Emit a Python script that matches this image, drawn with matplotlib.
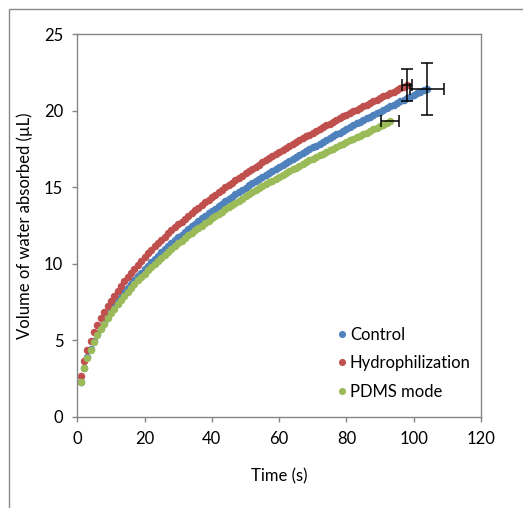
import matplotlib
matplotlib.use("Agg")
import matplotlib.pyplot as plt
from matplotlib.patches import Rectangle

plt.rcParams['font.family'] = ['Lato', 'DejaVu Sans']

# time (s) and absorbed volume (uL), one reading per second
control_t = list(range(1, 105))
control_v = [2.29, 3.19, 3.88, 4.45, 4.96, 5.41, 5.83, 6.21, 6.57, 6.92,
             7.24, 7.55, 7.84, 8.13, 8.40, 8.67, 8.92, 9.17, 9.41, 9.65,
             9.87, 10.10, 10.32, 10.53, 10.74, 10.94, 11.14, 11.34, 11.53, 11.72,
             11.90, 12.09, 12.27, 12.44, 12.62, 12.79, 12.96, 13.13, 13.29, 13.45,
             13.61, 13.77, 13.93, 14.08, 14.24, 14.39, 14.54, 14.68, 14.83, 14.97,
             15.12, 15.26, 15.40, 15.54, 15.67, 15.81, 15.95, 16.08, 16.21, 16.34,
             16.47, 16.60, 16.73, 16.86, 16.98, 17.11, 17.23, 17.36, 17.48, 17.60,
             17.73, 17.85, 17.98, 18.09, 18.22, 18.34, 18.46, 18.58, 18.70, 18.81,
             18.94, 19.05, 19.17, 19.28, 19.40, 19.51, 19.62, 19.73, 19.85, 19.95,
             20.07, 20.17, 20.29, 20.39, 20.51, 20.61, 20.72, 20.82, 20.93, 21.03,
             21.14, 21.24, 21.35, 21.45]

hydro_t = list(range(1, 99))
hydro_v = [2.63, 3.62, 4.36, 4.98, 5.51, 6.00, 6.44, 6.84, 7.23, 7.59,
           7.92, 8.25, 8.56, 8.86, 9.14, 9.42, 9.68, 9.94, 10.19, 10.43,
           10.67, 10.90, 11.13, 11.35, 11.56, 11.77, 11.98, 12.18, 12.38, 12.57,
           12.76, 12.95, 13.14, 13.32, 13.50, 13.67, 13.85, 14.02, 14.19, 14.35,
           14.52, 14.68, 14.84, 15.00, 15.15, 15.30, 15.46, 15.61, 15.76, 15.90,
           16.05, 16.19, 16.33, 16.48, 16.62, 16.75, 16.89, 17.03, 17.16, 17.29,
           17.43, 17.56, 17.69, 17.82, 17.94, 18.07, 18.19, 18.32, 18.44, 18.57,
           18.69, 18.81, 18.93, 19.05, 19.16, 19.28, 19.40, 19.51, 19.63, 19.74,
           19.86, 19.97, 20.08, 20.19, 20.30, 20.41, 20.52, 20.63, 20.73, 20.84,
           20.95, 21.05, 21.16, 21.26, 21.37, 21.47, 21.57, 21.68]

pdms_t = list(range(1, 94))
pdms_v = [2.29, 3.17, 3.84, 4.39, 4.88, 5.32, 5.72, 6.09, 6.43, 6.76,
          7.07, 7.36, 7.64, 7.92, 8.18, 8.43, 8.67, 8.91, 9.14, 9.36,
          9.58, 9.79, 10.00, 10.20, 10.40, 10.59, 10.78, 10.96, 11.15, 11.33,
          11.50, 11.68, 11.85, 12.01, 12.18, 12.34, 12.50, 12.66, 12.81, 12.97,
          13.12, 13.27, 13.41, 13.56, 13.70, 13.85, 13.99, 14.13, 14.26, 14.40,
          14.53, 14.67, 14.80, 14.93, 15.06, 15.19, 15.32, 15.44, 15.56, 15.69,
          15.81, 15.93, 16.05, 16.17, 16.29, 16.41, 16.52, 16.64, 16.75, 16.87,
          16.98, 17.09, 17.20, 17.31, 17.42, 17.53, 17.64, 17.75, 17.85, 17.96,
          18.06, 18.17, 18.27, 18.38, 18.48, 18.58, 18.68, 18.78, 18.88, 18.98,
          19.08, 19.18, 19.30]

# error bars on the final point of each series: (x err, y err)
control_err = (5.1, 1.7)
hydro_err = (1.5, 1.07)
pdms_err = (2.6, None)

labels = ["Control", "Hydrophilization", "PDMS mode"]
colors = ["#4F81BD", "#C0504D", "#9BBB59"]

fig = plt.figure(figsize=(5.23, 5.08), dpi=100)
ax = fig.add_axes([77.3 / 523, 91.3 / 508, 403.7 / 523, 382.4 / 508])

series = [(control_t, control_v, control_err),
          (hydro_t, hydro_v, hydro_err),
          (pdms_t, pdms_v, pdms_err)]

for (t, v, err), lab, c in zip(series, labels, colors):
    ax.plot(t, v, 'o', ms=5.4, mew=0, color=c, label=lab)

for (t, v, err), c in zip(series, colors):
    ax.errorbar(t[-1], v[-1], xerr=err[0], yerr=err[1], fmt='none',
                ecolor='black', elinewidth=1.1, capsize=4.3, capthick=1.1, zorder=5)

ax.set_xlim(0, 120)
ax.set_ylim(0, 25)
ax.set_xticks(range(0, 121, 20))
ax.set_yticks(range(0, 26, 5))
for s in ax.spines.values():
    s.set_color('#868686')
    s.set_linewidth(1.0)
ax.tick_params(direction='out', length=3.6, width=1.0, color='#868686',
               labelsize=12)
ax.tick_params(axis='x', pad=7)
ax.tick_params(axis='y', pad=6.5)
ax.set_xlabel("Time (s)", fontsize=12, labelpad=15)
ax.set_ylabel("Volume of water absorbed (µL)", fontsize=12, labelpad=8)

leg = ax.legend(loc='upper left', bbox_to_anchor=(0.607, 0.275), frameon=False,
                fontsize=12, handlelength=0.5, handletextpad=0.25,
                labelspacing=0.75, markerscale=0.95)

fig.add_artist(Rectangle((9 / 523, -0.05), 1.2, 1 - 9 / 508 + 0.05,
                         transform=fig.transFigure, fill=False,
                         ec='#878787', lw=1.0))

fig.savefig("out.png", dpi=100)
